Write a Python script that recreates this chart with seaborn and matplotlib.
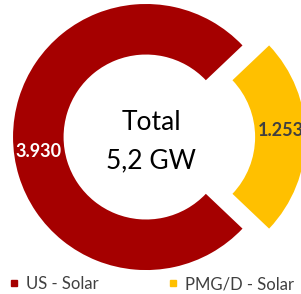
import matplotlib
matplotlib.use("Agg")
import matplotlib.pyplot as plt
from matplotlib.lines import Line2D
import seaborn as sns

# Data
categories = ["US - Solar", "PMG/D - Solar"]
values = [3.930, 1.253]
value_labels = ["3.930", "1.253"]
center_lines = ["Total", "5,2 GW"]

colors = ["#A50000", "#FFC000"]
label_colors = ["white", "#404040"]

sns.set_theme(style="white")
plt.rcParams["font.family"] = ["Lato", "DejaVu Sans"]

fig = plt.figure(figsize=(3.01, 2.94), dpi=100)
ax = fig.add_axes([0, 0, 1, 1])

# start so the small slice sits centred on the right side
start = 360 * values[1] / sum(values) / 2
wedges, texts = ax.pie(
    values,
    colors=colors,
    startangle=start,
    explode=[0, 0.2],
    labels=value_labels,
    labeldistance=0.81,
    wedgeprops=dict(width=0.38, linewidth=0),
    textprops=dict(fontsize=13, fontweight="bold"),
)
for t, c in zip(texts, label_colors):
    t.set_color(c)
    t.set_horizontalalignment("center")
    t.set_verticalalignment("center")
# nudge labels like the original
texts[0].set_y(texts[0].get_position()[1] - 0.11)
texts[1].set_y(texts[1].get_position()[1] + 0.05)

ax.text(0.04, 0.11, center_lines[0], ha="center", va="center", fontsize=19, color="black")
ax.text(0.04, -0.18, center_lines[1], ha="center", va="center", fontsize=19, color="black")

ax.set_xlim(-1.098, 1.165)
ax.set_ylim(-1.180, 1.030)
ax.set_aspect("auto")
ax.axis("off")

handles = [
    Line2D([], [], marker="s", linestyle="none", markersize=4.5, color=c)
    for c in colors
]
fig.legend(
    handles,
    categories,
    loc="lower left",
    bbox_to_anchor=(-0.02, -0.045),
    ncol=2,
    frameon=False,
    fontsize=12,
    handlelength=0.6,
    handletextpad=0.4,
    columnspacing=4.2,
    labelcolor="#404040",
)

fig.savefig("out.png", dpi=100)
